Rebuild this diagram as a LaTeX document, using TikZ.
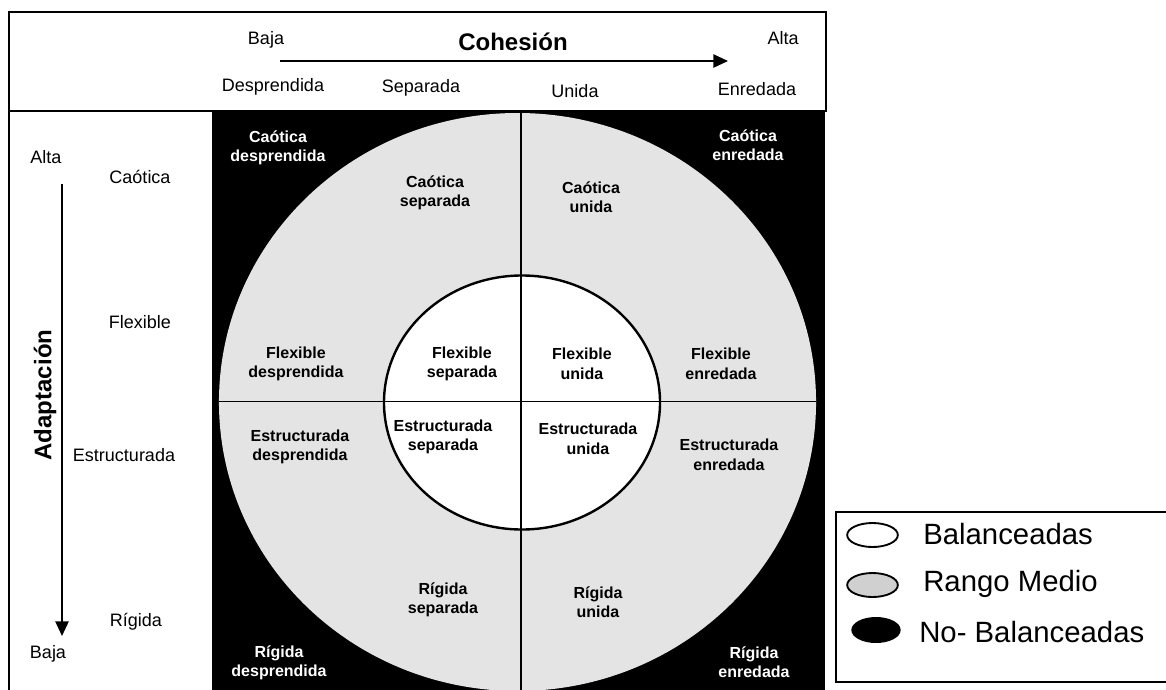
\documentclass[tikz,border=0pt]{standalone}
\usepackage{fontspec}
\setmainfont{Liberation Sans}
\usetikzlibrary{arrows.meta}

\definecolor{rango}{RGB}{228,228,228}
\definecolor{rangoleg}{RGB}{208,208,208}

\tikzset{
	eje/.style={font=\fontsize{13.5}{16}\selectfont},
	zona/.style={font=\bfseries\fontsize{12}{14.6}\selectfont, align=center},
	zonaw/.style={zona, text=white},
	titulo/.style={font=\bfseries\fontsize{18}{20}\selectfont},
	leyenda/.style={font=\fontsize{22}{24}\selectfont, anchor=west, inner sep=0pt},
	marco/.style={line width=1.5pt},
	flecha/.style={-{Triangle[length=11pt,width=10pt]}, line width=1.1pt},
}

\begin{document}
\begin{tikzpicture}[x=0.75pt,y=-0.75pt]
		\useasboundingbox (0,0) rectangle (1166,689);
		% circulos
		\fill[black] (213,111) rectangle (825,700);
		\fill[rango] (517.5,402) ellipse [x radius=223.9pt, y radius=216.75pt];
		\fill[white] (522,402.5) ellipse [x radius=103.5pt, y radius=95.25pt];
		\draw[line width=1.2pt] (520.7,111) -- (520.7,700);
		\draw[line width=1.2pt] (219,401.5) -- (816,401.5);
		\draw[line width=1.8pt] (522,402.5) ellipse [x radius=103.5pt, y radius=95.25pt];
		% marcos
		\draw[marco] (9,12) rectangle (826,111);
		\draw[marco] (9,111) -- (9,700);
		\draw[marco] (213,111) -- (213,700);
		% cohesion
		\node[eje] (bajac) at (266,40) {Baja};
		\node[eje] (altac) at (783,38) {Alta};
		\node[titulo] (cohesion) at (513,42) {Cohesión};
		\coordinate (cini) at (280,61);
		\coordinate (cfin) at (728,61);
		\draw[flecha] (cini) -- (cfin);
		\node[eje] (desp) at (273,87) {Desprendida};
		\node[eje] (sepa) at (421,88) {Separada};
		\node[eje] (unid) at (575,91) {Unida};
		\node[eje] (enre) at (757,89) {Enredada};
		% adaptacion
		\node[eje] (altaa) at (46,157) {Alta};
		\node[eje] (caot) at (140,177) {Caótica};
		\node[eje] (flex) at (140,322) {Flexible};
		\node[eje] (estr) at (124,455) {Estructurada};
		\node[eje] (rigi) at (136,622) {Rígida};
		\node[eje] (bajaa) at (48,654) {Baja};
		\node[titulo, rotate=90] (adapt) at (45,395) {Adaptación};
		\coordinate (aini) at (62,184);
		\coordinate (afin) at (62,636);
		\draw[flecha] (aini) -- (afin);
		% tipos
		\node[zonaw] (cd) at (278,148) {Caótica\\desprendida};
		\node[zonaw] (ce) at (748,145) {Caótica\\enredada};
		\node[zonaw] (rd) at (279,663) {Rígida\\desprendida};
		\node[zonaw] (re) at (754,662) {Rígida\\enredada};
		\node[zona] (cs) at (435,193) {Caótica\\separada};
		\node[zona] (cu) at (591,197) {Caótica\\unida};
		\node[zona] (fd) at (296,364) {Flexible\\desprendida};
		\node[zona] (fs) at (462,364) {Flexible\\separada};
		\node[zona] (fu) at (582,364) {Flexible\\unida};
		\node[zona] (fe) at (721,364) {Flexible\\enredada};
		\node[zona] (ed) at (300,447) {Estructurada\\desprendida};
		\node[zona] (es) at (443,437) {Estructurada\\separada};
		\node[zona] (eu) at (588,439) {Estructurada\\unida};
		\node[zona] (ee) at (729,455) {Estructurada\\enredada};
		\node[zona] (rs) at (443,600) {Rígida\\separada};
		\node[zona] (ru) at (598,602) {Rígida\\unida};
		% leyenda
		\draw[line width=1pt] (836,512) rectangle (1180,682);
		\draw[line width=1.4pt, fill=white] (872.5,535) ellipse [x radius=19pt, y radius=9pt];
		\draw[line width=1.4pt, fill=rangoleg] (872.5,585) ellipse [x radius=19pt, y radius=9pt];
		\fill[black] (876,630) ellipse [x radius=18.5pt, y radius=9.75pt];
		\node[leyenda] (bal) at (923,534) {Balanceadas};
		\node[leyenda] (ran) at (923,584) {Rango Medio};
		\node[leyenda] (nob) at (919,632) {No- Balanceadas};
	\end{tikzpicture}
\end{document}
